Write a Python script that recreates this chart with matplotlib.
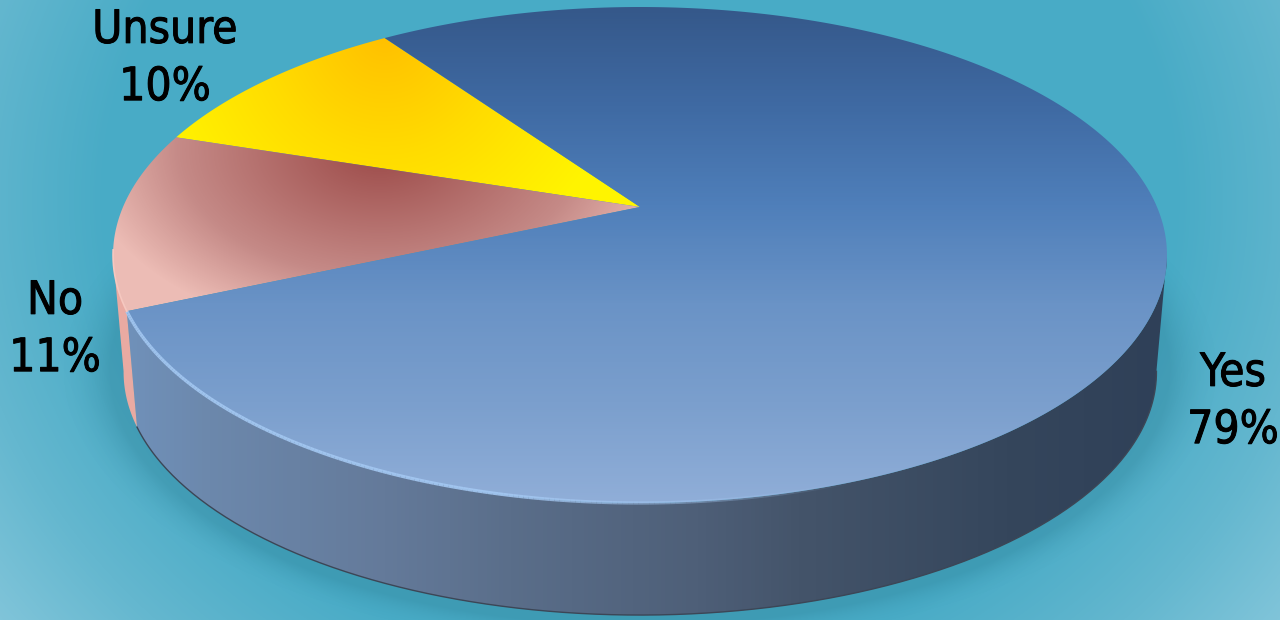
#!/usr/bin/env python3
"""3D style pie chart: Yes / No / Unsure, drawn on a teal gradient backdrop."""
import numpy as np
import matplotlib
matplotlib.use("Agg")
import matplotlib.pyplot as plt
import matplotlib.patheffects as pe
from matplotlib.collections import LineCollection
from matplotlib.colors import LinearSegmentedColormap as LSC
from matplotlib.patches import Polygon

# data, going counter-clockwise from the back of the pie
labels = ["Unsure", "No", "Yes"]
printed = [10, 11, 79]           # the percentages as printed
shares = [10.3, 11.6, 78.1]      # slice sizes

W, H = 1280, 620
START = 124.9          # degrees, where the first slice begins
APEX = (640.0, 207.0)  # the pie centre as seen in perspective
A, B, K = 517.0, 238.7, 0.1935
SCALE_BOTTOM, DEPTH = 0.98, 118.0

angles = START + np.cumsum([0] + shares) * 3.6
yy, xx = np.mgrid[0:H, 0:W] + 0.5


def rim(t0, t1, scale=1.0, dy=0.0, n=300):
    """points on the perspective circle between two angles in degrees"""
    t = np.radians(np.linspace(t0, t1, n))
    w = 1 + K * np.sin(t)
    px = APEX[0] + scale * A * np.cos(t) / w
    py = APEX[1] - scale * B * np.sin(t) / w + dy
    return np.column_stack([px, py])


def paint(ax, field, cmap, pts, z):
    """show a gradient field clipped to a polygon"""
    im = ax.imshow(field, cmap=cmap, vmin=0, vmax=1, extent=(0, W, H, 0),
                   aspect="auto", interpolation="bilinear", zorder=z)
    patch = Polygon(pts, closed=True, transform=ax.transData, fc="none", ec="none")
    ax.add_patch(patch)
    im.set_clip_path(patch)


fig = plt.figure(figsize=(W / 100, H / 100), dpi=100)
ax = fig.add_axes([0, 0, 1, 1])
ax.set_xlim(0, W)
ax.set_ylim(H, 0)
ax.axis("off")

# backdrop, lighter toward the corners, with a soft shadow round the pie
bg = LSC.from_list("bg", ["#48abc6", "#48abc6", "#64b7cf", "#88c8dc"], N=256)
r = np.hypot((xx - 640) / 640, (yy - 200) / 560)
ax.imshow(np.clip((r - 0.6) / 0.7, 0, 1), cmap=bg, vmin=0, vmax=1,
          extent=(0, W, H, 0), aspect="auto", zorder=0)
r2 = np.hypot((xx - 640) / 530, (yy - 370) / 255)
shade = np.clip(1 - (r2 - 1) / 0.1, 0, 1) ** 2
rgba = np.zeros((H, W, 4))
rgba[..., :3] = (0.13, 0.42, 0.50)
rgba[..., 3] = 0.25 * shade
ax.imshow(rgba, extent=(0, W, H, 0), aspect="auto", zorder=1)

# side wall
LEFT_T, RIGHT_T = 191.0, 349.0
side_cmap = LSC.from_list("side", [(0, "#7091ba"), (0.08, "#6c88ac"), (0.25, "#647a9a"),
                                   (0.37, "#5a6e8a"), (0.55, "#4e5f78"), (0.65, "#44546a"),
                                   (0.85, "#35465c"), (1, "#2f4058")])
side_field = np.clip((xx - 125) / 1040, 0, 1)
yes_start = angles[2]
side_yes = np.vstack([rim(yes_start, RIGHT_T), rim(RIGHT_T, yes_start, SCALE_BOTTOM, DEPTH)])
paint(ax, side_field, side_cmap, side_yes, 2)
side_no = np.vstack([rim(LEFT_T, yes_start), rim(yes_start, LEFT_T, SCALE_BOTTOM, DEPTH)])
ax.add_patch(Polygon(side_no, closed=True, fc="#e9aaa2", ec="none", zorder=2))
ax.plot(*rim(yes_start, RIGHT_T, SCALE_BOTTOM, DEPTH).T, color="#3c4656", lw=1.0, zorder=3)


# top faces
def wedge(t0, t1):
    return np.vstack([[APEX], rim(t0, t1)])


unsure_cmap = LSC.from_list("unsure", [(0, "#ffc000"), (0.5, "#ffdc00"), (1, "#fff400")])
unsure_field = np.clip(np.hypot(xx - 385, yy - 35) / 240, 0, 1)
paint(ax, unsure_field, unsure_cmap, wedge(angles[0], angles[1]), 4)

no_cmap = LSC.from_list("no", [(0, "#9c4a48"), (0.67, "#c58a87"), (1, "#ecbcb5")])
no_field = np.clip(np.hypot(xx - 380, (yy - 150) * 1.6) / 300, 0, 1)
paint(ax, no_field, no_cmap, wedge(angles[1], angles[2]), 4)

yes_cmap = LSC.from_list("yes", [(0, "#35588a"), (0.2, "#3f6aa3"), (0.4, "#4f7fba"),
                                 (0.6, "#6a93c6"), (0.8, "#7b9fcd"), (1, "#90aed8")])
yes_field = np.clip((yy - 7) / 496, 0, 1)
paint(ax, yes_field, yes_cmap, wedge(angles[2], angles[3]), 4)

# lit edge along the front of the rim, fading toward the right
front = rim(yes_start, 345)
segs = np.stack([front[:-1], front[1:]], axis=1)
fade = np.clip((850 - front[:-1, 0]) / 350, 0, 1)
edge = np.zeros((len(segs), 4))
edge[:, :3] = matplotlib.colors.to_rgb("#a4c8f2")
edge[:, 3] = 0.9 * fade
ax.add_collection(LineCollection(segs, colors=edge, linewidths=2.4, zorder=5))
ax.plot(*rim(LEFT_T - 1, yes_start).T, color="#f6c8c0", lw=1.2, zorder=5)

# labels
label_pos = [(165, 59), (55, 330), (1233, 402)]
for name, val, (lx, ly) in zip(labels, printed, label_pos):
    ax.text(lx, ly, f"{name}\n{val}%", ha="center", va="center", color="black",
            family=["DejaVu Sans"], stretch="condensed", fontsize=33,
            linespacing=1.35, zorder=6,
            path_effects=[pe.withStroke(linewidth=0.7, foreground="black")])

fig.savefig("out.png", dpi=100)
